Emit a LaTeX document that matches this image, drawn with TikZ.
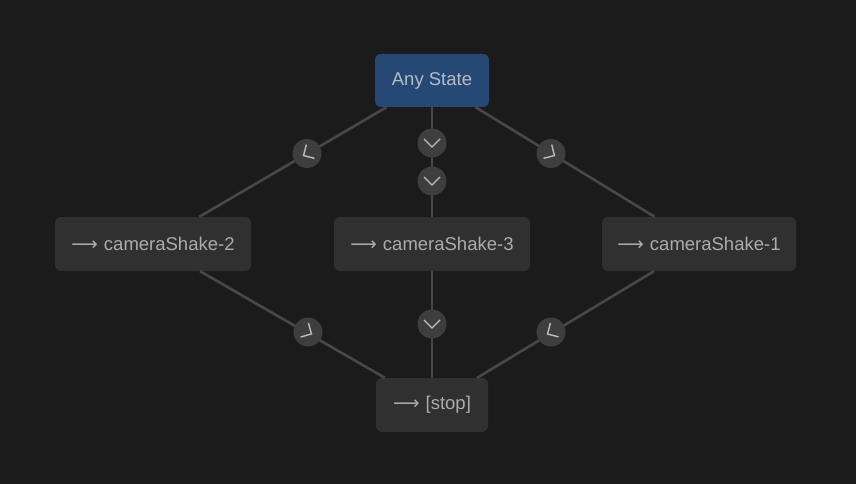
\documentclass[tikz,border=0pt]{standalone}
\usepackage{fontspec}
\setmainfont{Liberation Sans}
\newfontfamily\arrowfont{DejaVu Sans}
\definecolor{bg}{RGB}{27,27,27}
\definecolor{nodefill}{RGB}{48,48,48}
\definecolor{anyfill}{RGB}{38,72,116}
\definecolor{txt}{RGB}{172,172,172}
\definecolor{anytxt}{RGB}{180,188,200}
\definecolor{edgec}{RGB}{72,72,72}
\definecolor{circfill}{RGB}{62,62,62}
\definecolor{chevc}{RGB}{190,190,190}
\newcommand{\arr}{{\arrowfont\char"27F6}\hspace{6pt}}
\begin{document}
\begin{tikzpicture}[x=1pt,y=1pt,
  statebox/.style={rectangle, rounded corners=6pt, fill=nodefill, text=txt, minimum height=54pt, inner sep=0pt, font=\fontsize{18.5}{20}\selectfont},
  anybox/.style={statebox, fill=anyfill, text=anytxt, minimum width=114pt, minimum height=53pt},
  link/.style={draw=edgec, line width=2.6pt},
  chev/.style={circle, fill=circfill, minimum size=29pt, inner sep=0pt},
  chevron/.pic={\draw[chevc, line width=1.4pt] (-4,8) -- (4,0) -- (-4,-8);}
]
\fill[bg] (0,0) rectangle (856,-484);
\useasboundingbox (0,0) rectangle (856,-484);

\node[anybox] (any) at (432,-80.5) {\raisebox{-1pt}{Any State}};
\node[statebox, minimum width=196pt] (cs2) at (153,-244) {\raisebox{-1pt}{\arr cameraShake-2}};
\node[statebox, minimum width=196pt] (cs3) at (432,-244) {\raisebox{-1pt}{\arr cameraShake-3}};
\node[statebox, minimum width=194pt] (cs1) at (699,-244) {\raisebox{-1pt}{\arr cameraShake-1}};
\node[statebox, minimum width=112pt] (stop) at (432,-405) {\raisebox{-1pt}{\arr [stop]}};

\coordinate (a2) at (307,-153.5);
\coordinate (a1) at (551,-153.5);
\coordinate (a3a) at (432,-143);
\coordinate (a3b) at (432,-181);
\coordinate (b2) at (308,-332);
\coordinate (b3) at (432,-324);
\coordinate (b1) at (551,-332);

\draw[link] (any) -- (cs2);
\draw[link] (any) -- (cs1);
\draw[link] (any) -- (cs3);
\draw[link] (cs2) -- (stop);
\draw[link] (cs3) -- (stop);
\draw[link] (cs1) -- (stop);

\node[chev] (c2) at (a2) {};
\node[chev] (c1) at (a1) {};
\node[chev] (c3a) at (a3a) {};
\node[chev] (c3b) at (a3b) {};
\node[chev] (d2) at (b2) {};
\node[chev] (d3) at (b3) {};
\node[chev] (d1) at (b1) {};

\pic[rotate=-149.5] at (c2) {chevron};
\pic[rotate=-31] at (c1) {chevron};
\pic[rotate=-90] at (c3a) {chevron};
\pic[rotate=-90] at (c3b) {chevron};
\pic[rotate=-29.4] at (d2) {chevron};
\pic[rotate=-90] at (d3) {chevron};
\pic[rotate=-149.5] at (d1) {chevron};
\end{tikzpicture}
\end{document}
